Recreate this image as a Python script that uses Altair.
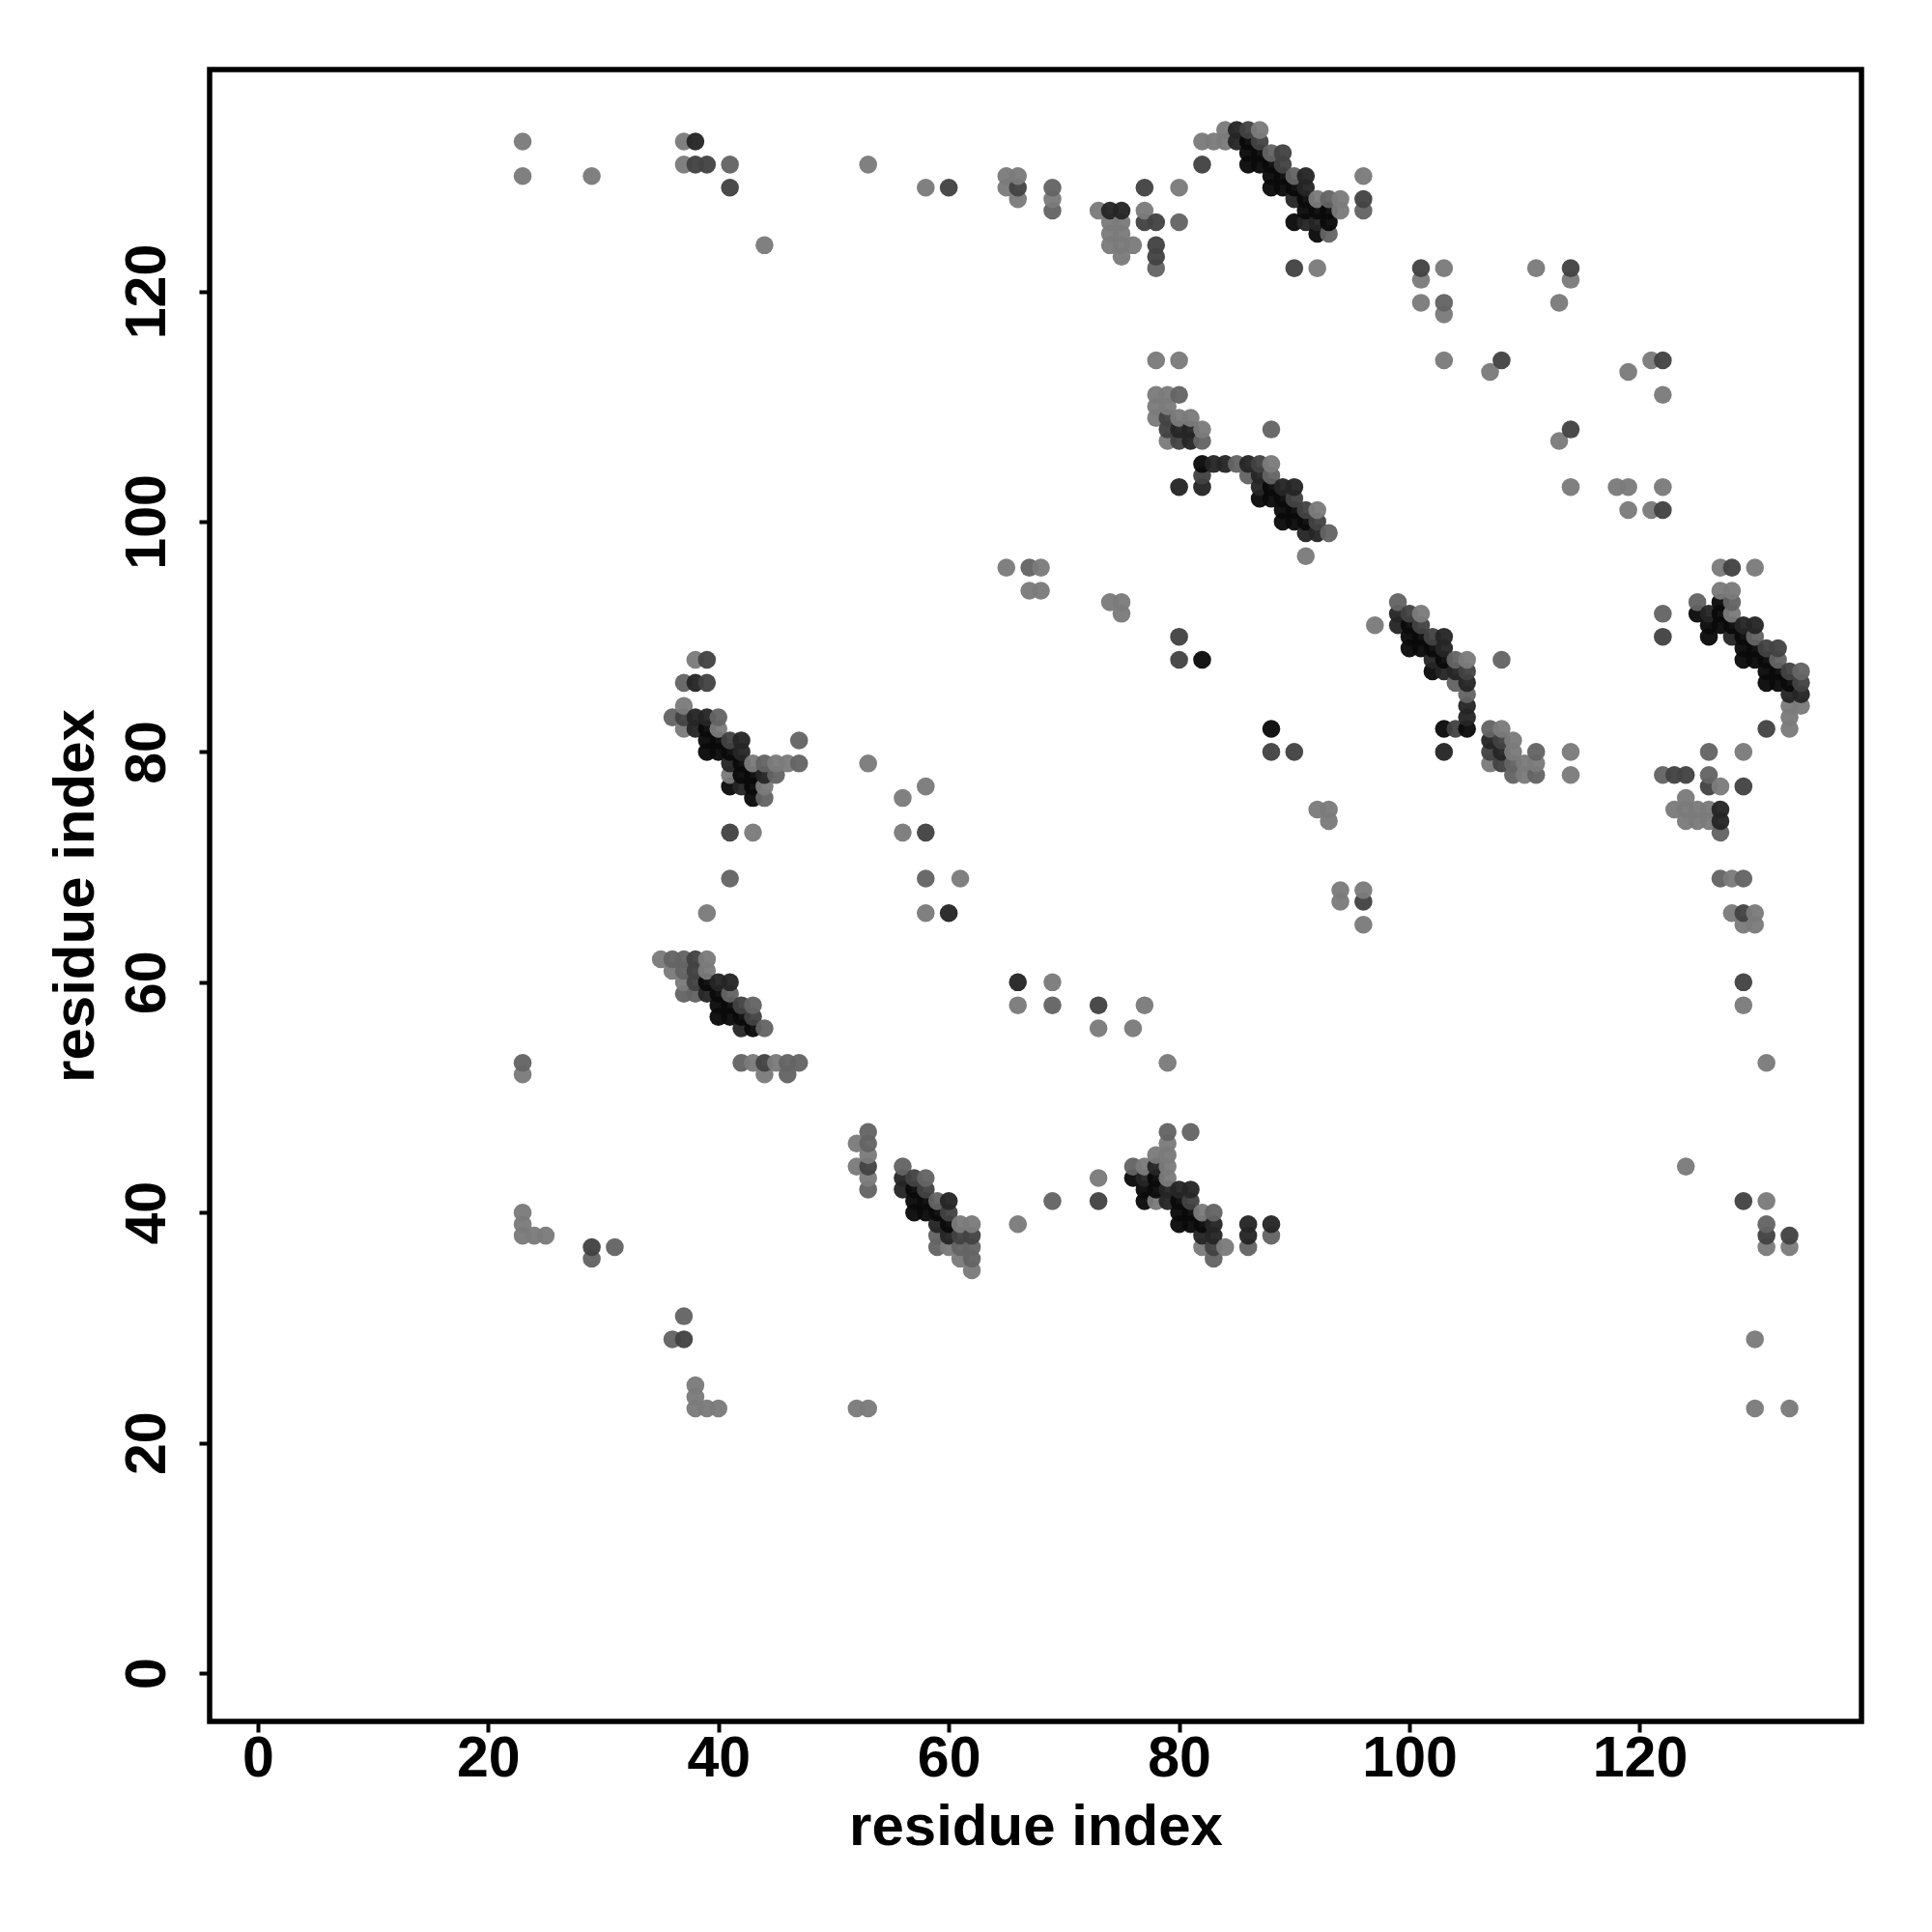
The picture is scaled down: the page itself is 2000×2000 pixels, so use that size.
import altair as alt
import pandas as pd

# contact level -> gray; L lightest ... B darkest
levels = ["L", "M", "D", "K", "B"]
grays = ["#7b7b7b", "#646464", "#434343", "#252525", "#0a0a0a"]
tick_values = [0, 20, 40, 60, 80, 100, 120]

sparse_top = [(23,133,"L"),(23,130,"L"),(29,130,"L"),(37,133,"L"),(38,133,"K"),(37,131,"L"),(38,131,"D"),(39,131,"D"),
 (41,131,"M"),(41,129,"D"),(44,124,"L"),(53,131,"L"),(58,129,"L"),(60,129,"D"),(65,130,"L"),(66,130,"L"),(65,129,"L"),
 (66,129,"D"),(66,128,"L"),(69,129,"M"),(69,128,"L"),(69,127,"M"),(73,127,"L"),(74,127,"K"),(75,127,"K"),(77,127,"L"),
 (77,126,"D"),(78,126,"D"),(80,126,"M"),(77,129,"D"),(80,129,"L"),(74,126,"L"),(75,126,"L"),(74,125,"L"),(75,125,"L"),
 (74,124,"L"),(75,124,"L"),(76,124,"L"),(75,123,"L"),(78,124,"D"),(78,123,"D"),(78,122,"M"),(82,131,"D"),(82,133,"L")]
diag_top = [(83,133,"L"),(84,134,"L"),(84,133,"L"),(85,134,"K"),(86,134,"D"),(87,134,"L"),(85,133,"K"),(86,133,"B"),(87,133,"D"),
 (86,132,"B"),(87,132,"B"),(88,132,"M"),(89,132,"D"),(86,131,"B"),(87,131,"B"),(88,131,"B"),(89,131,"D"),
 (88,130,"B"),(89,130,"B"),(90,130,"M"),(91,130,"K"),(88,129,"B"),(89,129,"B"),(90,129,"B"),(91,129,"K"),
 (90,128,"K"),(91,128,"B"),(92,128,"L"),(93,128,"M"),(94,128,"L"),(91,127,"B"),(92,127,"B"),(93,127,"B"),(94,127,"L"),
 (90,126,"B"),(91,126,"K"),(92,126,"K"),(93,126,"B"),(92,125,"B"),(93,125,"M"),(96,130,"L"),(96,128,"D"),(96,127,"M"),
 (90,122,"D"),(92,122,"L")]
sparse_upper_right = [(101,122,"D"),(101,121,"L"),(101,119,"L"),(103,122,"L"),(103,119,"M"),(103,118,"L"),(103,114,"L"),
 (107,113,"L"),(108,114,"D"),(111,122,"L"),(113,119,"L"),(114,122,"D"),(114,121,"L"),(113,107,"L"),(114,108,"D"),
 (114,103,"L"),(118,103,"L"),(119,103,"L"),(119,113,"L"),(119,101,"L"),(121,114,"L"),(122,114,"D"),(122,111,"L"),
 (121,101,"L"),(122,101,"D"),(122,103,"L")]
diag_105 = [(78,114,"L"),(80,114,"L"),(78,111,"L"),(79,111,"L"),(80,111,"M"),(78,110,"L"),(79,110,"L"),(78,109,"L"),(79,109,"D"),
 (80,109,"L"),(81,109,"L"),(79,108,"D"),(80,108,"K"),(81,108,"K"),(82,108,"L"),(79,107,"L"),(80,107,"D"),(81,107,"K"),
 (82,107,"M"),(88,108,"M"),(82,105,"B"),(83,105,"K"),(84,105,"K"),(85,105,"M"),(86,105,"K"),(87,105,"D"),(88,105,"L"),
 (82,104,"D"),(86,104,"M"),(87,104,"K"),(88,104,"M"),(80,103,"K"),(82,103,"K"),(87,103,"K"),(88,103,"B"),(89,103,"K"),
 (90,103,"K"),(87,102,"B"),(88,102,"B"),(89,102,"B"),(90,102,"D"),(89,101,"B"),(90,101,"B"),(91,101,"D"),(92,101,"L"),
 (89,100,"B"),(90,100,"B"),(91,100,"B"),(92,100,"D"),(91,99,"K"),(92,99,"K"),(93,99,"M"),(91,97,"L")]
diag_90 = [(99,93,"M"),(97,91,"L"),(99,92,"K"),(100,92,"D"),(101,92,"L"),(99,91,"K"),(100,91,"B"),(101,91,"D"),(100,90,"B"),
 (101,90,"B"),(102,90,"D"),(103,90,"K"),(100,89,"B"),(101,89,"B"),(102,89,"B"),(103,89,"K"),(102,88,"K"),(103,88,"B"),
 (104,88,"M"),(105,88,"L"),(108,88,"M"),(102,87,"B"),(103,87,"K"),(104,87,"K"),(105,87,"D"),(104,86,"M"),(105,86,"K"),
 (105,85,"M"),(105,84,"K"),(105,83,"K"),(103,82,"B"),(104,82,"D"),(105,82,"B"),(107,82,"M"),(108,82,"L"),(107,81,"K"),
 (108,81,"D"),(109,81,"L"),(103,80,"K"),(107,80,"D"),(108,80,"K"),(109,80,"L"),(111,80,"M"),(114,80,"L"),(107,79,"L"),
 (108,79,"D"),(109,79,"M"),(110,79,"L"),(111,79,"L"),(109,78,"M"),(110,78,"L"),(111,78,"M"),(114,78,"L")]
diag_right = [(125,93,"M"),(127,94,"L"),(128,94,"L"),(127,93,"B"),(128,93,"M"),(125,92,"B"),(126,92,"K"),(127,92,"B"),(128,92,"L"),
 (126,91,"B"),(127,91,"B"),(128,91,"B"),(129,91,"K"),(130,91,"K"),(126,90,"B"),(128,90,"K"),(129,90,"B"),(130,90,"M"),
 (129,89,"B"),(130,89,"B"),(131,89,"D"),(132,89,"D"),(129,88,"B"),(130,88,"B"),(131,88,"B"),(132,88,"M"),(131,87,"B"),
 (132,87,"B"),(133,87,"D"),(134,87,"M"),(131,86,"B"),(132,86,"B"),(133,86,"B"),(134,86,"D"),(133,85,"K"),(134,85,"K"),
 (133,84,"L"),(134,84,"L"),(133,83,"L"),(131,82,"D"),(133,82,"L"),(127,96,"L"),(128,96,"D"),(130,96,"L"),(122,92,"M"),(122,90,"D")]
right_column = [(126,80,"M"),(129,80,"L"),(122,78,"M"),(123,78,"D"),(124,78,"D"),(126,78,"M"),(126,77,"D"),(127,77,"L"),(129,77,"D"),
 (124,76,"L"),(123,75,"L"),(124,75,"L"),(125,75,"L"),(126,75,"L"),(127,75,"K"),(124,74,"L"),(125,74,"L"),(126,74,"L"),
 (127,74,"K"),(127,73,"M"),(127,69,"M"),(128,69,"L"),(129,69,"M"),(128,66,"L"),(129,66,"D"),(130,66,"L"),(129,65,"L"),
 (130,65,"L"),(129,60,"D"),(129,58,"L"),(131,53,"L"),(124,44,"L"),(129,41,"D"),(131,41,"L"),(131,39,"M"),(131,38,"D"),
 (133,38,"D"),(131,37,"L"),(133,37,"L"),(130,29,"L"),(130,23,"L"),(133,23,"L")]
sparse_middle = [(65,96,"L"),(67,96,"M"),(68,96,"L"),(67,94,"L"),(68,94,"L"),(74,93,"L"),(75,93,"L"),(75,92,"L"),(80,90,"D"),
 (80,88,"D"),(82,88,"B"),(88,82,"B"),(88,80,"D"),(90,80,"D"),(92,75,"L"),(93,75,"L"),(93,74,"L"),(94,68,"L"),(96,68,"L"),
 (94,67,"L"),(96,67,"D"),(96,65,"L"),(53,79,"L"),(56,76,"L"),(58,77,"L"),(56,73,"L"),(58,73,"D"),(58,69,"M"),(61,69,"L"),
 (58,66,"L"),(60,66,"K"),(39,66,"L"),(41,69,"M"),(41,73,"D"),(43,73,"L"),(66,60,"K"),(66,58,"L"),(69,60,"L"),(69,58,"M"),
 (73,58,"D"),(73,56,"L"),(76,56,"L"),(77,58,"L"),(79,53,"L"),(73,43,"L"),(73,41,"D"),(69,41,"M"),(66,39,"L")]
diag_80 = [(38,88,"L"),(39,88,"D"),(37,86,"M"),(38,86,"K"),(39,86,"D"),(37,84,"L"),(36,83,"M"),(37,83,"D"),(38,83,"K"),(39,83,"K"),
 (40,83,"M"),(37,82,"L"),(38,82,"K"),(39,82,"B"),(40,82,"L"),(39,81,"B"),(40,81,"B"),(41,81,"D"),(42,81,"K"),(47,81,"M"),
 (39,80,"B"),(40,80,"B"),(41,80,"B"),(42,80,"K"),(41,79,"K"),(42,79,"B"),(43,79,"L"),(44,79,"M"),(45,79,"L"),(46,79,"L"),
 (47,79,"M"),(41,78,"L"),(42,78,"B"),(43,78,"B"),(44,78,"K"),(45,78,"M"),(41,77,"B"),(42,77,"K"),(43,77,"B"),(44,77,"L"),
 (43,76,"B"),(44,76,"M")]
diag_60 = [(35,62,"L"),(36,62,"M"),(37,62,"M"),(38,62,"D"),(39,62,"L"),(36,61,"L"),(37,61,"M"),(38,61,"D"),(39,61,"L"),(37,60,"L"),
 (38,60,"D"),(39,60,"B"),(40,60,"K"),(41,60,"K"),(37,59,"M"),(38,59,"M"),(39,59,"K"),(40,59,"B"),(41,59,"M"),(40,58,"B"),
 (41,58,"B"),(42,58,"D"),(43,58,"M"),(40,57,"B"),(41,57,"B"),(42,57,"B"),(43,57,"D"),(42,56,"K"),(43,56,"B"),(44,56,"M"),
 (42,53,"M"),(43,53,"L"),(44,53,"D"),(45,53,"L"),(46,53,"M"),(47,53,"M"),(44,52,"L"),(46,52,"M"),(23,53,"M"),(23,52,"L")]
diag_40a = [(56,44,"M"),(56,43,"K"),(57,43,"D"),(58,43,"M"),(56,42,"K"),(57,42,"B"),(58,42,"D"),(57,41,"B"),(58,41,"B"),(59,41,"M"),
 (60,41,"K"),(57,40,"B"),(58,40,"B"),(59,40,"B"),(60,40,"D"),(59,39,"K"),(60,39,"B"),(61,39,"L"),(62,39,"L"),(59,38,"M"),
 (60,38,"K"),(61,38,"D"),(62,38,"D"),(59,37,"M"),(60,37,"L"),(61,37,"M"),(62,37,"M"),(61,36,"L"),(62,36,"M"),(62,35,"L"),
 (53,47,"M"),(52,46,"L"),(53,46,"M"),(53,45,"L"),(52,44,"L"),(53,44,"D"),(53,43,"L"),(53,42,"M")]
diag_40b = [(79,47,"M"),(81,47,"M"),(79,46,"L"),(78,45,"L"),(79,45,"L"),(76,44,"M"),(77,44,"L"),(78,44,"K"),(79,44,"L"),(76,43,"B"),
 (77,43,"K"),(78,43,"B"),(79,43,"L"),(77,42,"B"),(78,42,"B"),(79,42,"K"),(80,42,"K"),(81,42,"K"),(77,41,"B"),(78,41,"L"),
 (79,41,"K"),(80,41,"B"),(81,41,"D"),(80,40,"B"),(81,40,"B"),(82,40,"L"),(83,40,"M"),(80,39,"B"),(81,39,"B"),(82,39,"B"),
 (83,39,"K"),(86,39,"K"),(88,39,"K"),(82,38,"K"),(83,38,"K"),(86,38,"K"),(88,38,"M"),(82,37,"L"),(83,37,"D"),(84,37,"L"),
 (86,37,"M"),(83,36,"M")]
sparse_bottom = [(23,40,"L"),(23,39,"L"),(23,38,"L"),(24,38,"L"),(25,38,"L"),(29,37,"D"),(31,37,"M"),(29,36,"M"),(37,31,"M"),
 (36,29,"M"),(37,29,"D"),(38,25,"L"),(38,24,"L"),(38,23,"L"),(39,23,"L"),(40,23,"L"),(52,23,"L"),(53,23,"L")]

points = (sparse_top + diag_top + sparse_upper_right + diag_105 + diag_90 + diag_right + right_column
          + sparse_middle + diag_80 + diag_60 + diag_40a + diag_40b + sparse_bottom)
points = sorted(set(points), key=lambda p: (p[0], p[1]))
df = pd.DataFrame(points, columns=["x", "y", "level"])

FONT = "Liberation Sans"
DOMAIN = [-4.18, 139.25]

def axis(orient):
    return alt.Axis(
        orient=orient, values=tick_values, title="residue index", grid=False, domain=False,
        tickColor="black", tickWidth=4, tickSize=11, labelColor="black", titleColor="black",
        labelFont=FONT, titleFont=FONT, labelFontSize=59, titleFontSize=60,
        labelFontWeight="bold", titleFontWeight="bold",
        labelPadding=24 if orient == "left" else -2,
        labelAngle=270 if orient == "left" else 0,
        labelBaseline="bottom" if orient == "left" else "top",
        labelAlign="center", labelOverlap=False,
        labelFlush=False,
        titlePadding=14 if orient == "left" else 12,
    )

chart = (
    alt.Chart(df)
    .mark_circle(size=345, opacity=0.96, stroke=None)
    .encode(
        x=alt.X("x:Q", scale=alt.Scale(domain=DOMAIN, nice=False, zero=False), axis=axis("bottom")),
        y=alt.Y("y:Q", scale=alt.Scale(domain=DOMAIN, nice=False, zero=False), axis=axis("left")),
        color=alt.Color("level:N", scale=alt.Scale(domain=levels, range=grays), legend=None),
    )
    .properties(
        width=1710, height=1710,
        autosize=alt.AutoSizeParams(type="none"),
        padding={"left": 209, "top": 64, "right": 60, "bottom": 200},
        background="white",
    )
    .configure_view(stroke="black", strokeWidth=5.5)
)

chart.save("out.html", embed_options={"renderer": "svg", "actions": False})
